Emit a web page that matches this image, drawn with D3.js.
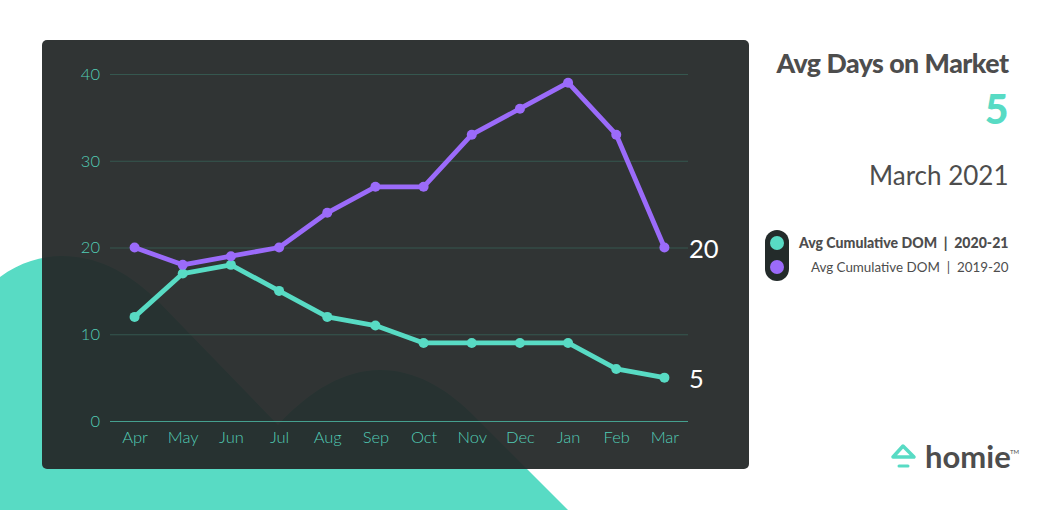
<!DOCTYPE html>
<html>
<head>
<meta charset="utf-8">
<script src="https://cdn.jsdelivr.net/npm/d3@7"></script>
<style>
body { margin: 0; background: #fff; }
svg { display: block; }
text { font-family: Lato, sans-serif; }
</style>
</head>
<body>
<div id="chart"></div>
<script>
var months = ["Apr","May","Jun","Jul","Aug","Sep","Oct","Nov","Dec","Jan","Feb","Mar"];
var dom2021 = [12,17,18,15,12,11,9,9,9,9,6,5];
var dom1920 = [20,18,19,20,24,27,27,33,36,39,33,20];
var yTicks = [0,10,20,30,40];
var legendLabels = ["Avg Cumulative DOM  |  2020-21","Avg Cumulative DOM  |  2019-20"];

var teal = "#58dbc4", purple = "#9b6bfa", grey = "#4d4d4d";

var svg = d3.select("#chart").append("svg")
  .attr("width", 1060)
  .attr("height", 510);

// background blob behind the panel
svg.append("path")
  .attr("fill", teal)
  .attr("d", "M0,277 C20,262 42,256 62,256 C95,256 125,270 155,298 L278,425 " +
    "C310,390 345,370 380,370 C415,370 445,388 470,412 L568,510 L0,510 Z");

svg.append("rect")
  .attr("x", 42).attr("y", 40)
  .attr("width", 707).attr("height", 429)
  .attr("rx", 5)
  .attr("fill", "rgb(36,40,40)")
  .attr("fill-opacity", 0.946);

var x = d3.scalePoint().domain(months).range([110.5, 688.5]).padding(0.5);
var y = d3.scaleLinear().domain([0, 40]).range([421, 74]);

// gridlines + y labels
var yAxis = svg.append("g")
  .attr("transform", "translate(110,0)")
  .call(d3.axisLeft(y).tickValues(yTicks).tickSize(-578).tickPadding(10));
yAxis.select(".domain").remove();
yAxis.selectAll("line").attr("stroke", "#35574f").attr("stroke-width", 1);
yAxis.selectAll("line").filter(function(d) { return d === 0; }).attr("stroke", "#45a08f");
yAxis.selectAll("text").attr("fill", "#52ccb6").attr("font-size", 16.5).attr("font-weight", 300);

var xAxis = svg.append("g")
  .attr("transform", "translate(0,421)")
  .call(d3.axisBottom(x).tickSize(0).tickPadding(10));
xAxis.select(".domain").remove();
xAxis.selectAll("text").attr("fill", "#52ccb6").attr("font-size", 16.5).attr("font-weight", 300);

var line = d3.line()
  .x(function(d, i) { return x(months[i]); })
  .y(function(d) { return y(d); });

function drawSeries(values, color) {
  svg.append("path")
    .datum(values)
    .attr("fill", "none")
    .attr("stroke", color)
    .attr("stroke-width", 4.8)
    .attr("stroke-linejoin", "round")
    .attr("d", line);
  svg.append("g").selectAll("circle")
    .data(values)
    .join("circle")
    .attr("cx", function(d, i) { return x(months[i]); })
    .attr("cy", function(d) { return y(d); })
    .attr("r", 5)
    .attr("fill", color);
}
drawSeries(dom2021, teal);
drawSeries(dom1920, purple);

// end labels
[dom2021, dom1920].forEach(function(s) {
  var last = s[s.length - 1];
  svg.append("text")
    .attr("x", 689)
    .attr("y", y(last) + 10)
    .attr("fill", "#fff")
    .attr("font-size", 25.5)
    .text(last);
});

// right side text
svg.append("text").attr("x", 1008.5).attr("y", 73).attr("text-anchor", "end")
  .attr("fill", grey).attr("font-size", 26.7).attr("font-weight", 900).attr("letter-spacing", -0.5)
  .text("Avg Days on Market");
svg.append("text").attr("x", 1008.5).attr("y", 124).attr("text-anchor", "end")
  .attr("fill", teal).attr("font-size", 41).attr("font-weight", 900)
  .text(dom2021[dom2021.length - 1]);
svg.append("text").attr("x", 1008.5).attr("y", 185).attr("text-anchor", "end")
  .attr("fill", grey).attr("font-size", 26).attr("font-weight", 400)
  .text("March 2021");

// legend
svg.append("rect").attr("x", 765).attr("y", 230).attr("width", 24).attr("height", 51)
  .attr("rx", 12).attr("fill", "#232b2a");
svg.append("circle").attr("cx", 777).attr("cy", 243).attr("r", 7).attr("fill", teal);
svg.append("circle").attr("cx", 777).attr("cy", 267).attr("r", 7).attr("fill", purple);
svg.append("text").attr("x", 1008.5).attr("y", 248).attr("text-anchor", "end")
  .attr("fill", grey).attr("font-size", 14.1).attr("font-weight", 900)
  .style("white-space", "pre").text(legendLabels[0]);
svg.append("text").attr("x", 1008.5).attr("y", 272).attr("text-anchor", "end")
  .attr("fill", grey).attr("font-size", 13.4).attr("font-weight", 400)
  .style("white-space", "pre").text(legendLabels[1]);

// logo
svg.append("path")
  .attr("fill", "none").attr("stroke", teal).attr("stroke-width", 3.5).attr("stroke-linejoin", "round")
  .attr("d", "M893,457 L903,446 L914,457 Z");
svg.append("path")
  .attr("fill", "none").attr("stroke", teal).attr("stroke-width", 3).attr("stroke-linecap", "round")
  .attr("d", "M899,466 L908,466");
svg.append("text").attr("x", 925).attr("y", 468)
  .attr("fill", grey).attr("font-size", 31).attr("font-weight", 700)
  .text("homie");
svg.append("text").attr("x", 1010).attr("y", 454)
  .attr("fill", grey).attr("font-size", 6)
  .text("TM");
</script>
</body>
</html>
